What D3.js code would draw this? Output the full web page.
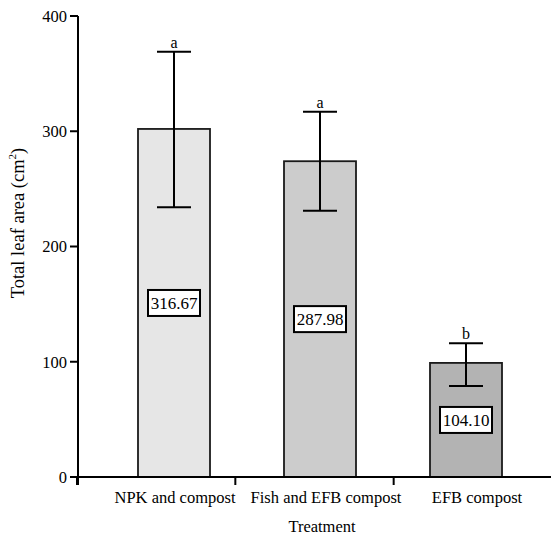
<!DOCTYPE html>
<html>
<head>
<meta charset="utf-8">
<script src="https://cdn.jsdelivr.net/npm/d3@7"></script>
<style>
  body { margin: 0; background: #fff; }
</style>
</head>
<body>
<div id="chart"></div>
<script>
var w = 551;
var h = 537;

// data
var treatments = ['NPK and compost', 'Fish and EFB compost', 'EFB compost'];
var barValues = [302, 274, 99];
var errHigh = [369, 317, 116];
var errLow = [234, 231, 79];
var meanLabels = ['316.67', '287.98', '104.10'];
var letters = ['a', 'a', 'b'];
var barFills = ['#e6e6e6', '#cccccc', '#b3b3b3'];
var yTicks = [0, 100, 200, 300, 400];

var svg = d3.select('#chart')
  .append('svg')
    .attr('width', w)
    .attr('height', h)
    .attr('font-family', "'Liberation Serif', 'DejaVu Serif', serif");

var y = d3.scaleLinear().domain([0, 400]).range([477, 16]);
var xBand = d3.scaleBand().domain(treatments).range([77, 552]); // tick boundaries
var xBar = d3.scalePoint().domain(treatments).range([174, 466]); // bar centres
var xLab = d3.scalePoint().domain(treatments).range([175, 477]); // category labels
var barW = 72;

// bars
svg.selectAll('.bar')
  .data(treatments)
  .enter()
  .append('rect')
    .attr('class', 'bar')
    .attr('x', function(d) { return xBar(d) - barW / 2; })
    .attr('y', function(d, i) { return y(barValues[i]); })
    .attr('width', barW)
    .attr('height', function(d, i) { return y(0) - y(barValues[i]); })
    .style('fill', function(d, i) { return barFills[i]; })
    .style('stroke', '#1a1a1a')
    .style('stroke-width', 1.8);

// error bars
var err = svg.selectAll('.err')
  .data(treatments)
  .enter()
  .append('g')
    .attr('class', 'err')
    .style('stroke', '#000')
    .style('stroke-width', 2);
err.append('line')
  .attr('x1', function(d) { return xBar(d); })
  .attr('x2', function(d) { return xBar(d); })
  .attr('y1', function(d, i) { return y(errHigh[i]); })
  .attr('y2', function(d, i) { return y(errLow[i]); });
err.append('line')
  .attr('x1', function(d) { return xBar(d) - 17; })
  .attr('x2', function(d) { return xBar(d) + 17; })
  .attr('y1', function(d, i) { return y(errHigh[i]); })
  .attr('y2', function(d, i) { return y(errHigh[i]); });
err.append('line')
  .attr('x1', function(d) { return xBar(d) - 17; })
  .attr('x2', function(d) { return xBar(d) + 17; })
  .attr('y1', function(d, i) { return y(errLow[i]); })
  .attr('y2', function(d, i) { return y(errLow[i]); });

// significance letters
svg.selectAll('.letter')
  .data(treatments)
  .enter()
  .append('text')
    .attr('class', 'letter')
    .attr('x', function(d) { return xBar(d); })
    .attr('y', function(d, i) { return y(errHigh[i]) - 4; })
    .attr('text-anchor', 'middle')
    .attr('font-size', 16)
    .text(function(d, i) { return letters[i]; });

// mean value boxes, centred at half bar height
var box = svg.selectAll('.vbox')
  .data(treatments)
  .enter()
  .append('g')
    .attr('class', 'vbox')
    .attr('transform', function(d, i) {
      return 'translate(' + xBar(d) + ',' + y(barValues[i] / 2) + ')';
    });
box.append('rect')
  .attr('x', -26)
  .attr('y', -13)
  .attr('width', 52)
  .attr('height', 26)
  .style('fill', '#fff')
  .style('stroke', '#000')
  .style('stroke-width', 2);
box.append('text')
  .attr('text-anchor', 'middle')
  .attr('dy', '0.36em')
  .attr('font-size', 17)
  .text(function(d, i) { return meanLabels[i]; });

// y axis
svg.append('line')
  .attr('x1', 78).attr('x2', 78)
  .attr('y1', y(400)).attr('y2', y(0) + 8)
  .style('stroke', '#000').style('stroke-width', 2);
svg.selectAll('.ytick')
  .data(yTicks)
  .enter()
  .append('line')
    .attr('class', 'ytick')
    .attr('x1', 70).attr('x2', 78)
    .attr('y1', function(d) { return y(d); })
    .attr('y2', function(d) { return y(d); })
    .style('stroke', '#000').style('stroke-width', 2);
svg.selectAll('.ylab')
  .data(yTicks)
  .enter()
  .append('text')
    .attr('class', 'ylab')
    .attr('x', 67)
    .attr('y', function(d) { return y(d); })
    .attr('dy', '0.35em')
    .attr('text-anchor', 'end')
    .attr('font-size', 16.5)
    .text(function(d) { return d; });

// x axis
svg.append('line')
  .attr('x1', 77).attr('x2', w)
  .attr('y1', y(0)).attr('y2', y(0))
  .style('stroke', '#000').style('stroke-width', 2);
svg.selectAll('.xtick')
  .data(treatments)
  .enter()
  .append('line')
    .attr('class', 'xtick')
    .attr('x1', function(d) { return xBand(d); })
    .attr('x2', function(d) { return xBand(d); })
    .attr('y1', y(0)).attr('y2', y(0) + 8)
    .style('stroke', '#000').style('stroke-width', 2);
svg.selectAll('.xlab')
  .data(treatments)
  .enter()
  .append('text')
    .attr('class', 'xlab')
    .attr('x', function(d) { return xLab(d); })
    .attr('y', 503)
    .attr('text-anchor', 'middle')
    .attr('font-size', 16.5)
    .text(function(d) { return d; });

// axis titles
svg.append('text')
  .attr('x', 322)
  .attr('y', 532)
  .attr('text-anchor', 'middle')
  .attr('font-size', 16.5)
  .text('Treatment');

var yTitle = svg.append('text')
  .attr('transform', 'translate(24,223) rotate(-90)')
  .attr('text-anchor', 'middle')
  .attr('font-size', 18.5);
yTitle.append('tspan').text('Total leaf area (cm');
yTitle.append('tspan').attr('dy', -8).attr('font-size', 11).text('2');
yTitle.append('tspan').attr('dy', 8).text(')');
</script>
</body>
</html>
